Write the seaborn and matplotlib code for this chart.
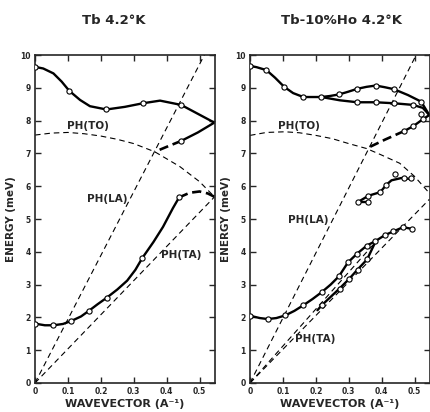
import numpy as np
import pandas as pd
import matplotlib
matplotlib.use("Agg")
import matplotlib.pyplot as plt
import seaborn as sns

# ---- Tb 4.2 K (left panel) ----
tb_top_x = [0, 0.025, 0.056, 0.081, 0.104, 0.137, 0.167, 0.217, 0.273, 0.328, 0.38, 0.444, 0.545]
tb_top_y = [9.64, 9.59, 9.44, 9.19, 8.91, 8.63, 8.44, 8.34, 8.42, 8.53, 8.61, 8.48, 7.94]
tb_top_px = [0, 0.104, 0.217, 0.328, 0.444]
tb_top_py = [9.64, 8.91, 8.34, 8.53, 8.48]
tb_ret_x = [0.545, 0.495, 0.444]
tb_ret_y = [7.94, 7.64, 7.38]
tb_ret_dash_x = [0.444, 0.40, 0.364]
tb_ret_dash_y = [7.38, 7.2, 7.05]
tb_low_x = [0, 0.03, 0.056, 0.085, 0.11, 0.14, 0.165, 0.19, 0.218, 0.25, 0.28, 0.305, 0.326,
            0.36, 0.389, 0.419, 0.438]
tb_low_y = [1.81, 1.76, 1.76, 1.8, 1.89, 2.03, 2.21, 2.4, 2.6, 2.85, 3.12, 3.45, 3.81,
            4.3, 4.76, 5.33, 5.66]
tb_low_px = [0, 0.056, 0.11, 0.165, 0.218, 0.326, 0.438]
tb_low_py = [1.81, 1.76, 1.89, 2.21, 2.6, 3.81, 5.66]
tb_low_dash_x = [0.438, 0.47, 0.5, 0.525, 0.545]
tb_low_dash_y = [5.66, 5.8, 5.84, 5.78, 5.68]
tb_to_x = [0, 0.05, 0.1, 0.15, 0.2, 0.25, 0.3, 0.364, 0.44, 0.5, 0.545]
tb_to_y = [7.56, 7.62, 7.64, 7.6, 7.53, 7.43, 7.3, 7.05, 6.6, 6.14, 5.68]
tb_la_x = [0, 0.53]
tb_la_y = [0, 10.3]
tb_ta_x = [0, 0.545]
tb_ta_y = [0, 5.67]

# ---- Tb-10%Ho 4.2 K (right panel) ----
ho_top_x = [0, 0.02, 0.05, 0.076, 0.104, 0.131, 0.162, 0.187, 0.217, 0.242, 0.271, 0.298,
            0.326, 0.354, 0.382, 0.409, 0.437, 0.48, 0.52, 0.545]
ho_top_y = [9.67, 9.63, 9.54, 9.31, 9.03, 8.84, 8.72, 8.72, 8.72, 8.75, 8.8, 8.88,
            8.97, 9.03, 9.07, 9.02, 8.96, 8.78, 8.58, 8.17]
ho_top_px = [0, 0.05, 0.104, 0.162, 0.217, 0.271, 0.326, 0.382, 0.437, 0.52]
ho_top_py = [9.67, 9.54, 9.03, 8.72, 8.72, 8.8, 8.97, 9.07, 8.96, 8.58]
ho_mid_x = [0.217, 0.273, 0.326, 0.382, 0.437, 0.495, 0.525, 0.545]
ho_mid_y = [8.72, 8.62, 8.56, 8.56, 8.53, 8.48, 8.39, 8.17]
ho_mid_px = [0.326, 0.382, 0.437, 0.495]
ho_mid_py = [8.56, 8.56, 8.53, 8.48]
ho_ret_x = [0.545, 0.525, 0.496, 0.468]
ho_ret_y = [8.17, 8.04, 7.83, 7.68]
ho_ret_px = [0.52, 0.525, 0.496, 0.468]
ho_ret_py = [8.19, 8.04, 7.83, 7.68]
ho_ret_dash_x = [0.468, 0.41, 0.354]
ho_ret_dash_y = [7.68, 7.42, 7.15]
ho_op1_x = [0.328, 0.36]
ho_op1_y = [5.53, 5.53]
ho_op2_x = [0.335, 0.36, 0.396, 0.414, 0.43, 0.46, 0.49]
ho_op2_y = [5.56, 5.71, 5.82, 6.04, 6.18, 6.25, 6.22]
ho_op_px = [0.328, 0.36, 0.36, 0.396, 0.414, 0.44, 0.467, 0.49]
ho_op_py = [5.53, 5.53, 5.71, 5.82, 6.04, 6.37, 6.25, 6.24]
ho_low_x = [0, 0.03, 0.054, 0.08, 0.107, 0.135, 0.162, 0.19, 0.218, 0.245, 0.27, 0.298,
            0.325, 0.355, 0.38, 0.41, 0.435, 0.465, 0.492]
ho_low_y = [2.05, 1.98, 1.95, 1.98, 2.06, 2.2, 2.37, 2.56, 2.77, 3.0, 3.25, 3.68,
            3.94, 4.19, 4.32, 4.51, 4.62, 4.75, 4.7]
ho_low_px = [0, 0.054, 0.107, 0.162, 0.218, 0.27, 0.298, 0.325, 0.355, 0.38, 0.41, 0.435,
             0.465, 0.492]
ho_low_py = [2.05, 1.95, 2.06, 2.37, 2.77, 3.25, 3.68, 3.94, 4.19, 4.32, 4.51, 4.62,
             4.75, 4.7]
ho_loop_x = [0.205, 0.218, 0.272, 0.3, 0.327, 0.356, 0.38]
ho_loop_y = [2.22, 2.37, 2.88, 3.16, 3.46, 3.77, 4.28]
ho_loop_px = [0.218, 0.272, 0.3, 0.327, 0.356]
ho_loop_py = [2.37, 2.88, 3.16, 3.46, 3.77]
ho_to_x = [0, 0.05, 0.106, 0.15, 0.2, 0.25, 0.3, 0.354, 0.4, 0.455, 0.5, 0.545]
ho_to_y = [7.55, 7.64, 7.66, 7.63, 7.55, 7.45, 7.3, 7.15, 6.95, 6.7, 6.3, 5.79]
ho_la_x = [0, 0.52]
ho_la_y = [0, 10.3]
ho_ta_x = [0, 0.545]
ho_ta_y = [0, 5.6]
ho_mid_dash_x = [0, 0.38]
ho_mid_dash_y = [0, 4.28]

sns.set_style("ticks")
plt.rcParams['font.family'] = ['DejaVu Sans']

fig = plt.figure(figsize=(4.3, 4.12), dpi=100)
ax1 = fig.add_axes([0.0814, 0.0704, 0.4186, 0.796])
ax2 = fig.add_axes([0.5814, 0.0704, 0.4186, 0.796])

thin = dict(color='k', lw=0.8, linestyle=(0, (5, 3.5)))
thick = dict(color='k', lw=1.7)
thickdash = dict(color='k', lw=1.9, linestyle=(0, (3.5, 1.8)))


def curve(ax, x, y, **kw):
    sns.lineplot(x=x, y=y, ax=ax, sort=False, estimator=None, **kw)


def dots(ax, x, y):
    sns.scatterplot(x=x, y=y, ax=ax, marker='o', s=14, color='white',
                    edgecolor='black', linewidth=0.8, zorder=5)


# left panel
curve(ax1, tb_to_x, tb_to_y, **thin)
curve(ax1, tb_la_x, tb_la_y, **thin)
curve(ax1, tb_ta_x, tb_ta_y, **thin)
curve(ax1, tb_top_x, tb_top_y, **thick)
curve(ax1, tb_ret_x, tb_ret_y, **thick)
curve(ax1, tb_ret_dash_x, tb_ret_dash_y, **thickdash)
curve(ax1, tb_low_x, tb_low_y, **thick)
curve(ax1, tb_low_dash_x, tb_low_dash_y, **thickdash)
dots(ax1, tb_top_px, tb_top_py)
dots(ax1, [tb_ret_x[-1]], [tb_ret_y[-1]])
dots(ax1, tb_low_px, tb_low_py)

# right panel
curve(ax2, ho_to_x, ho_to_y, **thin)
curve(ax2, ho_la_x, ho_la_y, **thin)
curve(ax2, ho_ta_x, ho_ta_y, **thin)
curve(ax2, ho_mid_dash_x, ho_mid_dash_y, **thin)
curve(ax2, ho_top_x, ho_top_y, **thick)
curve(ax2, ho_mid_x, ho_mid_y, **thick)
curve(ax2, ho_ret_x, ho_ret_y, **thick)
curve(ax2, ho_ret_dash_x, ho_ret_dash_y, **thickdash)
curve(ax2, ho_op1_x, ho_op1_y, **thick)
curve(ax2, ho_op2_x, ho_op2_y, **thick)
curve(ax2, ho_low_x, ho_low_y, **thick)
curve(ax2, ho_loop_x, ho_loop_y, **thick)
dots(ax2, ho_top_px, ho_top_py)
dots(ax2, ho_mid_px, ho_mid_py)
dots(ax2, ho_ret_px, ho_ret_py)
dots(ax2, ho_op_px, ho_op_py)
dots(ax2, ho_low_px, ho_low_py)
dots(ax2, ho_loop_px, ho_loop_py)

lab = dict(fontsize=7.5, fontweight='bold', ha='center', va='center')
ax1.text(0.16, 7.85, 'PH(TO)', **lab)
ax1.text(0.22, 5.6, 'PH(LA)', **lab)
ax1.text(0.445, 3.9, 'PH(TA)', **lab)
ax2.text(0.15, 7.85, 'PH(TO)', **lab)
ax2.text(0.178, 4.97, 'PH(LA)', **lab)
ax2.text(0.197, 1.35, 'PH(TA)', **lab)

for ax in (ax1, ax2):
    ax.set_xlim(0, 0.547)
    ax.set_ylim(0, 10)
    ax.set_xticks([0, 0.1, 0.2, 0.3, 0.4, 0.5])
    ax.set_xticklabels(['0', '0.1', '0.2', '0.3', '0.4', '0.5'])
    ax.set_yticks(range(0, 11))
    ax.tick_params(direction='in', length=4, width=1, top=True, right=True,
                   labelsize=5.5, pad=3)
    for t in ax.get_xticklabels() + ax.get_yticklabels():
        t.set_fontweight('bold')
    for s in ax.spines.values():
        s.set_linewidth(1.2)
    ax.set_xlabel('WAVEVECTOR (A⁻¹)', fontsize=8, fontweight='bold', labelpad=2)
    ax.set_ylabel('ENERGY (meV)', fontsize=7.5, fontweight='bold', labelpad=3)

fig.text(0.265, 0.95, 'Tb 4.2°K', fontsize=9.5, fontweight='bold', ha='center', va='center')
fig.text(0.795, 0.95, 'Tb-10%Ho 4.2°K', fontsize=9.5, fontweight='bold',
         ha='center', va='center')

fig.savefig('out.png', dpi=100, facecolor='white')
